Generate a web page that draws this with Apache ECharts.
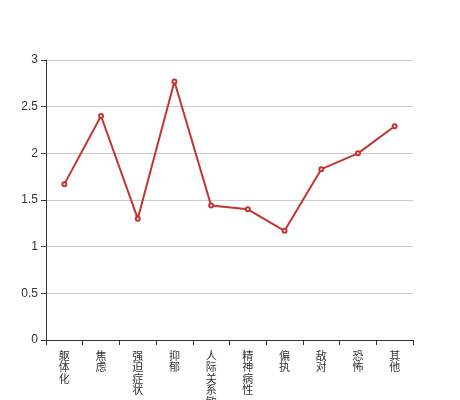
<!DOCTYPE html>
<html><head><meta charset="utf-8">
<script src="https://cdn.jsdelivr.net/npm/echarts@6/dist/echarts.min.js"></script>
<style>html,body{margin:0;padding:0;background:#fff}#c{width:460px;height:400px}</style>
</head><body><div id="c"></div>
<script>
var categories = ['躯体化','焦虑','强迫症状','抑郁','人际关系敏感','精神病性','偏执','敌对','恐怖','其他'];
var values = [1.67, 2.40, 1.30, 2.77, 1.44, 1.40, 1.17, 1.83, 2.00, 2.29];
var chart = echarts.init(document.getElementById('c'));
chart.setOption({
  animation: false,
  grid: {left: 46, right: 47, top: 60, bottom: 60, containLabel: false, outerBoundsMode: 'none'},
  xAxis: {
    type: 'category', data: categories,
    axisLine: {lineStyle: {color: '#333'}},
    axisTick: {show: true, alignWithLabel: false, lineStyle: {color: '#333'}},
    axisLabel: {interval: 0, color: '#333', fontSize: 11, lineHeight: 11.5, margin: 10,
      fontFamily: 'Noto Sans CJK SC',
      formatter: function(v){ return v.split('').join('\n'); }}
  },
  yAxis: {
    type: 'value', min: 0, max: 3, interval: 0.5,
    axisLine: {show: true, lineStyle: {color: '#333'}},
    axisTick: {show: true, lineStyle: {color: '#333'}},
    axisLabel: {color: '#333', fontSize: 12, fontFamily: 'Liberation Sans'},
    splitLine: {lineStyle: {color: '#ccc'}}
  },
  series: [{
    type: 'line', data: values,
    symbol: 'emptyCircle', symbolSize: 4,
    lineStyle: {color: '#c23531', width: 2},
    itemStyle: {color: '#c23531'}
  }]
});
</script></body></html>
